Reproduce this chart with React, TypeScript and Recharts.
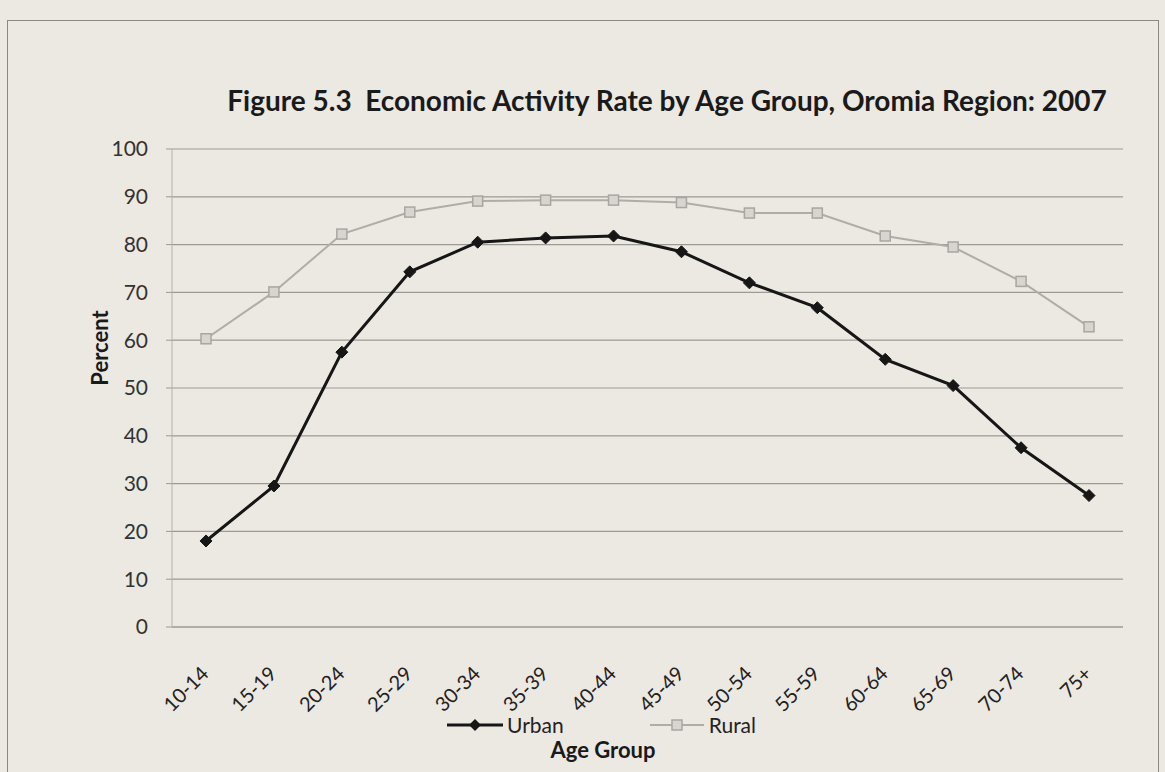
import React from 'react';
import { LineChart, Line, XAxis, YAxis, CartesianGrid } from 'recharts';

const ageGroups = ['10-14','15-19','20-24','25-29','30-34','35-39','40-44','45-49','50-54','55-59','60-64','65-69','70-74','75+'];
const urban = [18, 29.5, 57.5, 74.3, 80.5, 81.4, 81.8, 78.5, 72, 66.8, 56, 50.5, 37.5, 27.5];
const rural = [60.3, 70.1, 82.2, 86.8, 89.1, 89.3, 89.3, 88.8, 86.6, 86.6, 81.8, 79.5, 72.3, 62.8];
const yTicks = [0, 10, 20, 30, 40, 50, 60, 70, 80, 90, 100];

const data = ageGroups.map((g, i) => ({ group: g, Urban: urban[i], Rural: rural[i] }));

const FONT = 'Lato, "Open Sans", sans-serif';
const BG = '#ece8e2';

const Diamond = (props: any) => {
  const { cx, cy } = props;
  if (cx == null || cy == null) return null;
  const r = 6;
  return <path d={`M${cx},${cy - r} L${cx + r},${cy} L${cx},${cy + r} L${cx - r},${cy} Z`} fill="#161616" stroke="#161616" strokeWidth={1} />;
};

const Square = (props: any) => {
  const { cx, cy } = props;
  if (cx == null || cy == null) return null;
  const s = 5;
  return <rect x={cx - s} y={cy - s} width={2 * s} height={2 * s} fill="#d8d5d0" stroke="#a9a6a2" strokeWidth={1.5} />;
};

const XTick = (props: any) => {
  const { x, y, payload } = props;
  const ax = x + 4;
  const ay = y + 40;
  return (
    <text x={ax} y={ay} textAnchor="end" transform={`rotate(-45 ${ax} ${ay})`} fontSize={20} fill="#222" fontFamily={FONT}>
      {payload.value}
    </text>
  );
};

const LegendBox = () => (
  <div style={{ position: 'absolute', left: 447, top: 712, display: 'flex', alignItems: 'center', fontFamily: FONT, fontSize: 21, color: '#222', whiteSpace: 'nowrap' }}>
    <svg width={56} height={16} style={{ marginRight: 4 }}>
      <line x1={0} y1={8} x2={56} y2={8} stroke="#161616" strokeWidth={3} />
      <path d="M28,2 L34,8 L28,14 L22,8 Z" fill="#161616" />
    </svg>
    <span style={{ marginRight: 86 }}>Urban</span>
    <svg width={54} height={16} style={{ marginRight: 5 }}>
      <line x1={0} y1={8} x2={54} y2={8} stroke="#b0aca8" strokeWidth={2} />
      <rect x={22} y={3} width={10} height={10} fill="#d8d5d0" stroke="#a9a6a2" strokeWidth={1.5} />
    </svg>
    <span>Rural</span>
  </div>
);

export default function App() {
  return (
    <div style={{ position: 'absolute', left: 0, top: 0, width: 1165, height: 772, background: BG, overflow: 'hidden' }}>
      <div style={{ position: 'absolute', left: 7, top: 20, width: 1152, height: 800, border: '1px solid #8a8884', boxSizing: 'border-box' }} />
      <div style={{ position: 'absolute', left: 667, top: 100, transform: 'translate(-50%, -50%)', whiteSpace: 'nowrap', fontFamily: FONT, fontWeight: 700, fontSize: 28, color: '#1a1a1a' }}>
        Figure 5.3&nbsp; Economic Activity Rate by Age Group, Oromia Region: 2007
      </div>
      <div style={{ position: 'absolute', left: 99, top: 348, transform: 'translate(-50%, -50%) rotate(-90deg)', fontFamily: FONT, fontWeight: 700, fontSize: 22, color: '#1a1a1a', whiteSpace: 'nowrap' }}>
        Percent
      </div>
      <div style={{ position: 'absolute', left: 603, top: 749, transform: 'translate(-50%, -50%)', fontFamily: FONT, fontWeight: 700, fontSize: 22, color: '#1a1a1a', whiteSpace: 'nowrap' }}>
        Age Group
      </div>
      <div style={{ position: 'absolute', left: 0, top: 0 }}>
        <LineChart width={1165} height={772} data={data} margin={{ top: 149, right: 42, bottom: 85, left: 112 }}>
          <CartesianGrid vertical={false} stroke="#9d9a96" strokeWidth={1.2} />
          <XAxis dataKey="group" tick={<XTick />} interval={0} height={60} tickLine={false} padding={{ left: 34, right: 34 }} axisLine={{ stroke: '#9d9a96' }} />
          <YAxis domain={[0, 100]} ticks={yTicks} width={60} interval={0} axisLine={{ stroke: '#b5b2ae' }} tickLine={{ stroke: '#9d9a96' }} tickSize={6} tickMargin={18} tick={{ fontSize: 21, fill: '#333', fontFamily: FONT }} />
          <Line type="linear" dataKey="Rural" stroke="#b0aca8" strokeWidth={2} dot={<Square />} isAnimationActive={false} />
          <Line type="linear" dataKey="Urban" stroke="#161616" strokeWidth={3} dot={<Diamond />} isAnimationActive={false} />
        </LineChart>
      </div>
      <LegendBox />
    </div>
  );
}
